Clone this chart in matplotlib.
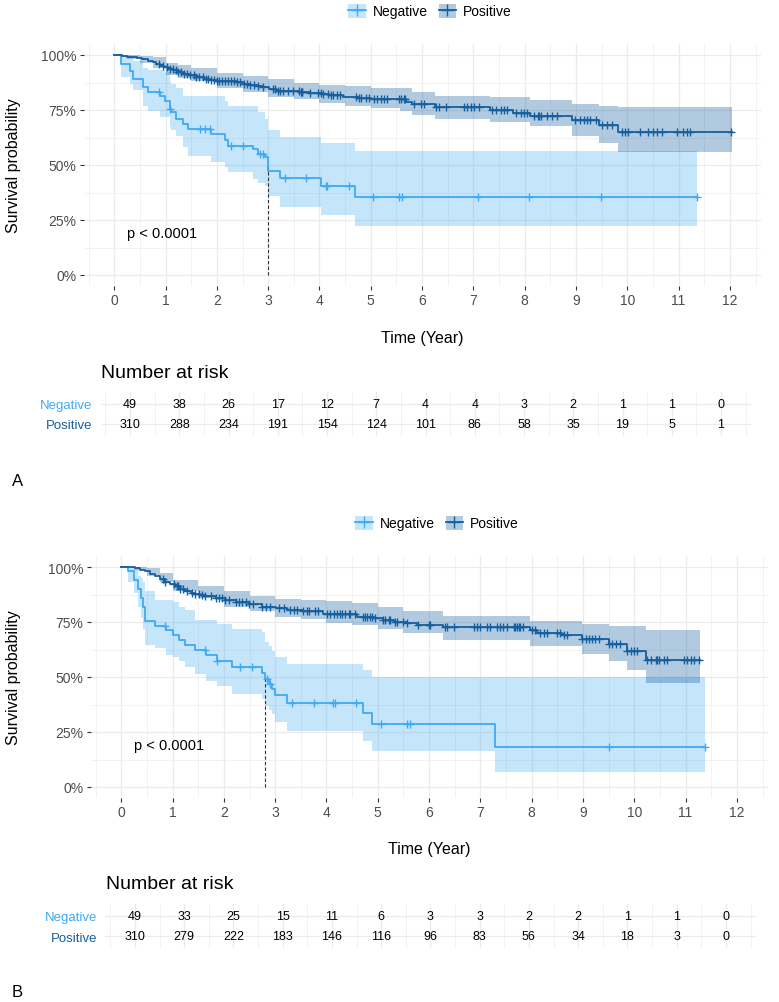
import matplotlib
matplotlib.use("Agg")
import matplotlib.pyplot as plt
import numpy as np
from matplotlib.patches import Patch
from matplotlib.lines import Line2D
from matplotlib.legend_handler import HandlerTuple

plt.rcParams['font.family'] = ['Liberation Sans', 'DejaVu Sans']

W, H = 779, 1003

GROUPS = ["Negative", "Positive"]
TIME_TICKS = list(range(13))

# ---- panel A : Kaplan-Meier steps (years, survival) ----
A_NEG_T = [0, 0.14, 0.30, 0.36, 0.56, 0.66, 0.89, 0.98, 1.08, 1.11, 1.21, 1.34,
           1.44, 1.89, 2.15, 2.22, 2.71, 2.80, 2.93, 2.99, 3.23, 4.03, 4.70]
A_NEG_S = [1, .959, .929, .891, .853, .833, .815, .792, .755, .739, .709, .686,
           .664, .641, .614, .586, .571, .548, .538, .471, .441, .403, .353]
A_NEG_UP = [1, 1, .99, .975, .94, .93, .93, .925, .88, .87, .85, .815,
            .815, .815, .79, .77, .77, .74, .71, .66, .626, .60, .565]
A_NEG_LO = [1, .90, .87, .84, .77, .747, .717, .717, .671, .66, .633, .58,
            .542, .512, .49, .467, .436, .42, .406, .36, .308, .274, .221]
A_NEG_END = 11.35
A_NEG_CENS = [0.875, 1.08, 1.67, 1.76, 1.86, 2.28, 2.51, 2.85, 2.90, 3.32, 3.73,
              4.12, 4.15, 4.57, 5.05, 5.55, 5.60, 7.08, 8.08, 9.49, 11.35]

A_POS_T = [0, 0.15, 0.25, 0.35, 0.45, 0.55, 0.65, 0.75, 0.82, 0.90, 0.97, 1.05,
           1.15, 1.25, 1.34, 1.45, 1.60, 1.75, 1.86, 2.00, 2.12, 2.38, 2.50, 2.64,
           2.78, 2.90, 3.02, 3.16, 3.61, 3.81, 4.05, 4.19, 4.45, 4.77, 5.00, 5.68,
           5.81, 6.25, 7.32, 7.78, 8.10, 8.92, 9.45, 9.82]
A_POS_S = [1, .997, .993, .99, .985, .98, .975, .968, .96, .952, .945, .938,
           .93, .922, .915, .908, .90, .893, .888, .884, .88, .876, .87, .864,
           .858, .853, .845, .838, .833, .827, .822, .818, .81, .803, .80, .786,
           .776, .763, .75, .737, .722, .706, .682, .652]
A_POS_END = 12.05
A_POS_CI_T = [0, 0.25, 0.5, 0.75, 1.0, 1.25, 1.5, 2.0, 2.5, 3.0, 3.5, 4.0, 4.5,
              5.0, 5.57, 5.80, 6.25, 7.32, 8.10, 8.92, 9.45, 9.82]
A_POS_UP = [1, 1, .997, .99, .965, .955, .94, .92, .905, .89, .875, .865, .857,
            .85, .849, .834, .815, .807, .795, .777, .77, .765]
A_POS_LO = [1, .98, .965, .94, .91, .895, .88, .85, .83, .81, .80, .78, .77,
            .76, .747, .727, .709, .694, .676, .633, .60, .56]
A_POS_CENS = [0.88, 0.95, 1.02, 1.08, 1.14, 1.2, 1.25, 1.3, 1.36, 1.42, 1.48, 1.55,
              1.6, 1.66, 1.72, 1.78, 1.82, 1.88, 1.94, 2.0, 2.05, 2.1, 2.16, 2.22,
              2.28, 2.33, 2.4, 2.46, 2.52, 2.58, 2.65, 2.72, 2.8,
              2.90, 3.10, 3.13, 3.19, 3.23, 3.29, 3.39, 3.48, 3.60, 3.63, 3.65,
              3.66, 3.81, 3.97, 4.03, 4.06, 4.16, 4.23, 4.26, 4.35, 4.39, 4.71,
              4.77, 4.81, 4.90, 4.97, 5.06, 5.13, 5.19, 5.26, 5.32, 5.55, 5.58,
              5.65, 5.67, 5.84, 5.97, 6.03, 6.27, 6.33, 6.46, 6.82, 6.88, 6.95,
              7.01, 7.11, 7.37, 7.44, 7.53, 7.60, 7.66, 7.83, 7.92, 7.99, 8.05,
              8.18, 8.25, 8.28, 8.31, 8.44, 8.54, 8.63, 8.99, 9.08, 9.15, 9.22,
              9.28, 9.38, 9.51, 9.61, 9.70, 9.89, 9.95, 10.02, 10.24, 10.41,
              10.50, 10.57, 10.67, 10.96, 11.09, 11.16, 11.22, 12.03]
A_MEDIAN = 3.0
A_RISK_NEG = [49, 38, 26, 17, 12, 7, 4, 4, 3, 2, 1, 1, 0]
A_RISK_POS = [310, 288, 234, 191, 154, 124, 101, 86, 58, 35, 19, 5, 1]

# ---- panel B ----
B_NEG_T = [0, 0.13, 0.25, 0.33, 0.38, 0.43, 0.47, 0.66, 0.88, 1.00, 1.12, 1.25,
           1.43, 1.66, 1.86, 2.15, 2.75, 2.80, 2.87, 2.93, 3.00, 3.23, 4.72, 4.88,
           7.28]
B_NEG_S = [1, .98, .939, .898, .857, .816, .755, .734, .712, .69, .667, .645,
           .622, .598, .574, .547, .52, .493, .466, .446, .416, .382, .336, .286,
           .183]
B_NEG_UP = [1, 1, .99, .96, .95, .93, .89, .85, .85, .84, .82, .805,
            .76, .76, .74, .72, .705, .66, .64, .62, .59, .56, .53, .50, .50]
B_NEG_LO = [1, .93, .88, .82, .77, .72, .645, .63, .60, .59, .575, .545,
            .515, .48, .46, .424, .40, .37, .35, .33, .294, .255, .21, .164, .07]
B_NEG_END = 11.37
B_NEG_CENS = [0.86, 1.64, 1.87, 2.32, 2.55, 2.85, 2.90, 3.32, 3.75, 4.12, 4.17,
              4.58, 5.06, 5.56, 5.62, 9.5, 11.37]

B_POS_T = [0, 0.15, 0.26, 0.36, 0.46, 0.56, 0.66, 0.75, 0.85, 0.95,
           1.05, 1.15, 1.25, 1.35, 1.44, 1.54, 1.64, 1.84, 2.03, 2.23,
           2.49, 2.75, 3.02, 3.23, 3.55, 3.94, 4.59, 4.92, 5.11, 5.31,
           5.56, 5.76, 6.28, 7.97, 8.11, 8.60, 8.98, 9.50, 9.86, 10.22]
B_POS_S = [1, .998, .995, .988, .98, .968, .957, .945, .934, .923,
           .912, .902, .892, .884, .877, .871, .866, .858, .85, .84,
           .83, .82, .812, .806, .80, .786, .775, .768, .76, .752,
           .745, .738, .726, .715, .70, .691, .675, .65, .62, .579]
B_POS_END = 11.29
B_POS_CI_T = [0, 0.25, 0.5, 0.75, 1.0, 1.5, 2.0, 2.5, 3.0, 3.5, 4.0, 4.5, 5.0,
              5.5, 6.28, 7.97, 8.98, 9.50, 9.86, 10.22]
B_POS_UP = [1, 1, .995, .975, .942, .915, .889, .87, .855, .85, .844, .835, .82,
            .80, .779, .756, .741, .733, .733, .715]
B_POS_LO = [1, .985, .96, .93, .889, .86, .82, .80, .774, .765, .745, .735, .72,
            .70, .67, .64, .605, .572, .53, .473]
B_POS_CENS = [0.82, 0.85, 1.02, 1.08, 1.11, 1.15, 1.21, 1.28, 1.38, 1.44, 1.51,
              1.57, 1.64, 1.74, 1.84, 1.90, 1.97, 2.03, 2.10, 2.23, 2.30, 2.36,
              2.43, 2.49, 2.56, 2.75, 2.82, 2.89, 3.08, 3.18, 3.29, 3.36, 3.42,
              3.55, 3.62, 3.65, 3.78, 3.84, 4.01, 4.07, 4.14, 4.20, 4.27, 4.30,
              4.36, 4.43, 4.46, 4.56, 4.72, 4.75, 4.79, 4.85, 4.88, 4.95, 5.11,
              5.14, 5.21, 5.24, 5.34, 5.37, 5.50, 5.56, 5.79, 5.99, 6.02, 6.31,
              6.35, 6.48, 6.87, 6.93, 7.0, 7.13, 7.19, 7.32, 7.39, 7.45, 7.52,
              7.65, 7.68, 7.71, 7.75, 7.78, 7.84, 8.01, 8.07, 8.17, 8.24, 8.30,
              8.50, 8.56, 8.63, 8.69, 8.98, 9.05, 9.11, 9.18, 9.24, 9.31, 9.50,
              9.57, 9.64, 9.73, 9.86, 9.93, 9.99, 10.06, 10.25, 10.32, 10.42,
              10.45, 10.48, 10.58, 10.64, 10.97, 11.03, 11.10, 11.16, 11.26]
B_MEDIAN = 2.80
B_RISK_NEG = [49, 33, 25, 15, 11, 6, 3, 3, 2, 2, 1, 1, 0]
B_RISK_POS = [310, 279, 222, 183, 146, 116, 96, 83, 56, 34, 18, 3, 0]

NEG_COLOR = "#3fa9f5"
POS_COLOR = "#135f9f"
BAND_ALPHA = {NEG_COLOR: 0.3, POS_COLOR: 0.33}
GRID = "#ebebeb"


def px_axes(fig, left, top, right, bottom):
    return fig.add_axes([left / W, 1 - bottom / H, (right - left) / W, (bottom - top) / H])


def fig_text(fig, x, y, s, **kw):
    return fig.text(x / W, 1 - y / H, s, **kw)


def step_at(t_steps, s_steps, t):
    idx = np.searchsorted(t_steps, t, side="right") - 1
    return np.asarray(s_steps)[idx]


def draw_band(ax, t, s, end, ci_t, lo, up, cens, color):
    ax.fill_between(np.append(ci_t, end), np.append(lo, lo[-1]), np.append(up, up[-1]),
                    step="post", color=color, alpha=BAND_ALPHA[color], lw=0, zorder=2)
    return (np.append(t, end), np.append(s, s[-1]), cens, step_at(t, s, cens))


def draw_panel(fig, dy, dx, neg, pos, median, risk_neg, risk_pos, tag):
    ax = px_axes(fig, 83.5 + dx, 45 + dy, 760.7 + dx, 287 + dy)
    ax.set_xlim(-0.6, 12.6)
    ax.set_ylim(-0.05, 1.05)
    for sp in ax.spines.values():
        sp.set_visible(False)
    ax.set_xticks(TIME_TICKS)
    ax.set_xticks(np.arange(-0.5, 13, 1), minor=True)
    ax.set_yticks([0, 0.25, 0.5, 0.75, 1.0])
    ax.set_yticklabels(["0%", "25%", "50%", "75%", "100%"])
    ax.set_yticks([0.125, 0.375, 0.625, 0.875], minor=True)
    ax.grid(True, which="major", color=GRID, lw=0.9, zorder=0)
    ax.grid(True, which="minor", color=GRID, lw=0.45, zorder=0)
    ax.set_axisbelow(True)
    ax.tick_params(which="major", length=3, width=0.8, color="#333333",
                   labelsize=10, labelcolor="#4d4d4d", pad=2)
    ax.tick_params(which="minor", length=0)

    curves = []
    for d, color in ((neg, NEG_COLOR), (pos, POS_COLOR)):
        curves.append(draw_band(ax, *d, color))
    for (xs, ys, cens, cy), color in zip(curves, (NEG_COLOR, POS_COLOR)):
        ax.step(xs, ys, where="post", color=color, lw=1.3, zorder=4)
        ax.plot(cens, cy, ls="none", marker="+", ms=6, mew=1.0, color=color, zorder=5)

    ax.plot([median, median], [0, 0.5], ls=(0, (3, 2)), color="#333333", lw=0.8, zorder=3)
    ax.text(0.25, 0.19, "p < 0.0001", fontsize=10.5, ha="left", va="center", zorder=6)

    handles = []
    for color in (NEG_COLOR, POS_COLOR):
        handles.append((Patch(facecolor=color, alpha=BAND_ALPHA[color], edgecolor="none"),
                        Line2D([], [], color=color, lw=1.3, marker="+", ms=8, mew=1.0)))
    fig.legend(handles, GROUPS, handler_map={tuple: HandlerTuple(ndivide=1)},
               loc="center", bbox_to_anchor=((430 + dx) / W, 1 - (12 + dy) / H),
               ncol=2, frameon=False, fontsize=10, handlelength=1.25, handleheight=1.2,
               columnspacing=0.8, handletextpad=0.5)

    fig_text(fig, 14, 166 + dy, "Survival probability", rotation=90, fontsize=11.5,
             ha="center", va="center")
    fig_text(fig, 422 + dx, 338 + dy, "Time (Year)", fontsize=11.5, ha="center", va="center")
    fig_text(fig, 101 + dx * 0.7, 373 + dy, "Number at risk", fontsize=14, ha="left", va="center")
    fig_text(fig, 12, 481 + dy, tag, fontsize=12, ha="left", va="center")

    rx = dx * 0.7
    rt = px_axes(fig, 100.5 + rx, 393 + dy, 750.6 + rx, 437 + dy)
    rt.set_xlim(-0.6, 12.6)
    rt.set_ylim(0.4, 2.6)
    for sp in rt.spines.values():
        sp.set_visible(False)
    rt.set_xticks(TIME_TICKS)
    rt.set_xticks(np.arange(-0.5, 13, 1), minor=True)
    rt.set_yticks([2, 1])
    rt.set_yticklabels(GROUPS)
    rt.grid(True, which="major", color=GRID, lw=0.9, zorder=0)
    rt.grid(True, which="minor", axis="x", color=GRID, lw=0.45, zorder=0)
    rt.tick_params(axis="x", which="both", length=0, labelbottom=False)
    rt.tick_params(axis="y", length=0, labelsize=9.5, pad=6)
    for lab, color in zip(rt.get_yticklabels(), (NEG_COLOR, POS_COLOR)):
        lab.set_color(color)
    for i, (n1, n2) in enumerate(zip(risk_neg, risk_pos)):
        rt.text(TIME_TICKS[i], 2, str(n1), ha="center", va="center", fontsize=9)
        rt.text(TIME_TICKS[i], 1, str(n2), ha="center", va="center", fontsize=9)


fig = plt.figure(figsize=(W / 100, H / 100), dpi=100)

draw_panel(fig, 0, 0,
           (A_NEG_T, A_NEG_S, A_NEG_END, A_NEG_T, A_NEG_LO, A_NEG_UP, A_NEG_CENS),
           (A_POS_T, A_POS_S, A_POS_END, A_POS_CI_T, A_POS_LO, A_POS_UP, A_POS_CENS),
           A_MEDIAN, A_RISK_NEG, A_RISK_POS, "A")
draw_panel(fig, 512, 7,
           (B_NEG_T, B_NEG_S, B_NEG_END, B_NEG_T, B_NEG_LO, B_NEG_UP, B_NEG_CENS),
           (B_POS_T, B_POS_S, B_POS_END, B_POS_CI_T, B_POS_LO, B_POS_UP, B_POS_CENS),
           B_MEDIAN, B_RISK_NEG, B_RISK_POS, "B")

fig.savefig("out.png", dpi=100)
